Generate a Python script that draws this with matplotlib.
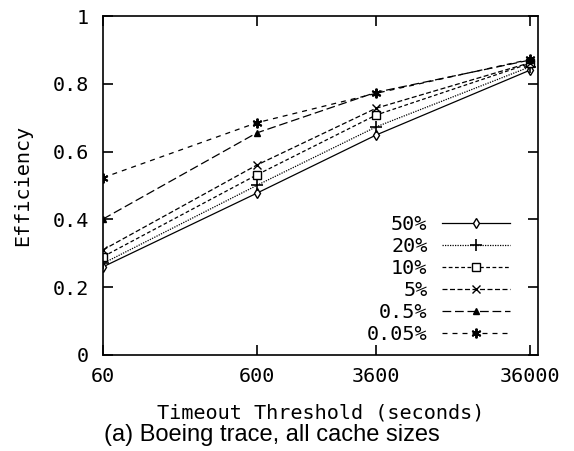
import matplotlib
matplotlib.use("Agg")
import matplotlib.pyplot as plt
from matplotlib.ticker import FixedLocator, FixedFormatter, NullLocator

# Daten
timeouts = [60, 600, 3600, 36000]
labels = ["50%", "20%", "10%", "5%", "0.5%", "0.05%"]
eff_50 = [0.26, 0.477, 0.649, 0.84]
eff_20 = [0.27, 0.50, 0.673, 0.85]
eff_10 = [0.29, 0.531, 0.708, 0.86]
eff_5 = [0.31, 0.56, 0.728, 0.862]
eff_05 = [0.401, 0.655, 0.775, 0.87]
eff_005 = [0.523, 0.685, 0.772, 0.872]

series = [eff_50, eff_20, eff_10, eff_5, eff_05, eff_005]
styles = [
    dict(linestyle="-", marker="d", mfc="white", ms=5),
    dict(linestyle=(0, (1, 1)), marker="+", ms=8, mew=1.2),
    dict(linestyle=(0, (3, 2)), marker="s", mfc="white", ms=6),
    dict(linestyle=(0, (4, 2)), marker="x", ms=6),
    dict(linestyle=(0, (7, 3)), marker="^", ms=5),
    dict(linestyle=(0, (4, 4)), marker=(6, 2, 0), ms=7, mew=1.4),
]

mono = "DejaVu Sans Mono"
fs = 14.5

fig = plt.figure(figsize=(5.74, 4.51), dpi=100)
ax = fig.add_axes([0.1794, 0.2129, 0.7576, 0.7516])

for vals, lab, st in zip(series, labels, styles):
    ax.plot(timeouts, vals, color="black", lw=0.9, label=lab, **st)

ax.set_xscale("log")
ax.set_xlim(60, 40600)
ax.set_ylim(0, 1)
ax.xaxis.set_major_locator(FixedLocator(timeouts))
ax.xaxis.set_major_formatter(FixedFormatter([str(t) for t in timeouts]))
ax.xaxis.set_minor_locator(NullLocator())
ax.set_yticks([0, 0.2, 0.4, 0.6, 0.8, 1.0])
ax.set_yticklabels(["0", "0.2", "0.4", "0.6", "0.8", "1"])
ax.tick_params(direction="in", length=7, width=1.2, top=True, right=True)
ax.tick_params(axis="x", pad=9)
ax.tick_params(axis="y", pad=10)
for lbl in ax.get_xticklabels() + ax.get_yticklabels():
    lbl.set_fontfamily(mono)
    lbl.set_fontsize(fs)
for sp in ax.spines.values():
    sp.set_linewidth(1.2)

ax.set_ylabel("Efficiency", fontfamily=mono, fontsize=fs, labelpad=15)
ax.set_xlabel("Timeout Threshold (seconds)", fontfamily=mono, fontsize=fs,
              labelpad=12)
fig.text(0.474, 0.035, "(a) Boeing trace, all cache sizes",
         fontfamily="Liberation Sans", fontsize=17, ha="center", va="center")

leg = ax.legend(loc="lower right", bbox_to_anchor=(0.936, 0.032), frameon=False,
                markerfirst=False, handlelength=3.4, handletextpad=0.7,
                labelspacing=0.15, borderpad=0, borderaxespad=0,
                prop={"family": mono, "size": fs})

fig.savefig("out.png", dpi=100)
